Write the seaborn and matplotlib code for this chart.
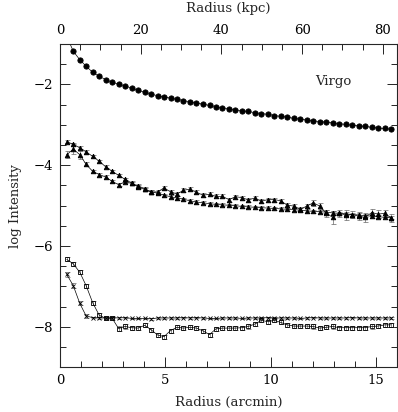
import matplotlib
matplotlib.use("Agg")
import matplotlib.pyplot as plt
import seaborn as sns
from matplotlib.ticker import MultipleLocator

sns.set_style("ticks")
plt.rcParams['font.family'] = ['DejaVu Serif']
plt.rcParams['mathtext.default'] = 'regular'

# radius in arcmin (shared sampling of all profiles)
radius = [0.32, 0.63, 0.94, 1.24, 1.55, 1.86, 2.17, 2.48, 2.78, 3.09,
          3.40, 3.71, 4.02, 4.32, 4.63, 4.94, 5.25, 5.56, 5.86, 6.17,
          6.48, 6.79, 7.10, 7.40, 7.71, 8.02, 8.33, 8.64, 8.94, 9.25,
          9.56, 9.87, 10.18, 10.48, 10.79, 11.10, 11.41, 11.72, 12.02, 12.33,
          12.64, 12.95, 13.26, 13.56, 13.87, 14.18, 14.49, 14.80, 15.10, 15.41,
          15.72]

# filled circles (first point lies above the plot)
circles = [-0.81, -1.18, -1.39, -1.55, -1.70, -1.80, -1.88, -1.95, -1.99, -2.04,
           -2.09, -2.15, -2.19, -2.24, -2.28, -2.31, -2.34, -2.37, -2.40, -2.43,
           -2.46, -2.49, -2.52, -2.55, -2.58, -2.60, -2.63, -2.65, -2.67, -2.70,
           -2.72, -2.74, -2.77, -2.79, -2.81, -2.84, -2.86, -2.88, -2.90, -2.92,
           -2.93, -2.95, -2.97, -2.99, -3.01, -3.02, -3.04, -3.06, -3.08, -3.09,
           -3.11]

# triangles, smooth profile
tri_a = [-3.42, -3.48, -3.57, -3.67, -3.78, -3.90, -4.04, -4.15, -4.25, -4.35,
         -4.44, -4.54, -4.60, -4.66, -4.69, -4.74, -4.78, -4.81, -4.84, -4.88,
         -4.91, -4.93, -4.95, -4.97, -4.98, -4.99, -5.00, -5.02, -5.03, -5.04,
         -5.05, -5.06, -5.07, -5.08, -5.09, -5.10, -5.11, -5.13, -5.14, -5.15,
         -5.16, -5.18, -5.19, -5.20, -5.22, -5.23, -5.25, -5.26, -5.27, -5.29,
         -5.30]
tri_a_err = [0.04] * 51

# triangles, noisy profile
tri_b = [-3.74, -3.60, -3.74, -3.98, -4.15, -4.23, -4.29, -4.40, -4.48, -4.41,
         -4.45, -4.51, -4.58, -4.66, -4.66, -4.56, -4.66, -4.71, -4.62, -4.59,
         -4.67, -4.74, -4.72, -4.77, -4.77, -4.85, -4.78, -4.80, -4.86, -4.81,
         -4.89, -4.85, -4.85, -4.88, -4.99, -5.01, -5.09, -5.01, -4.93, -5.01,
         -5.19, -5.29, -5.19, -5.23, -5.22, -5.26, -5.29, -5.17, -5.21, -5.19,
         -5.30]
tri_b_err = [0.09, 0.12, 0.10, 0.05, 0.04, 0.04, 0.04, 0.04, 0.04, 0.04,
             0.04, 0.04, 0.05, 0.05, 0.05, 0.05, 0.05, 0.05, 0.05, 0.05,
             0.05, 0.05, 0.05, 0.05, 0.05, 0.05, 0.05, 0.05, 0.05, 0.05,
             0.05, 0.05, 0.05, 0.05, 0.06, 0.06, 0.06, 0.06, 0.07, 0.07,
             0.09, 0.16, 0.09, 0.12, 0.08, 0.10, 0.12, 0.08, 0.09, 0.09,
             0.10]

# open squares
squares = [-6.33, -6.44, -6.65, -6.98, -7.40, -7.71, -7.79, -7.79, -8.04, -7.99,
           -8.02, -8.03, -7.96, -8.07, -8.20, -8.24, -8.09, -8.01, -8.03, -8.01,
           -8.03, -8.10, -8.19, -8.05, -8.03, -8.03, -8.03, -8.02, -7.99, -7.93,
           -7.84, -7.87, -7.84, -7.89, -7.95, -7.98, -7.98, -7.98, -7.99, -8.03,
           -8.01, -7.99, -8.02, -8.02, -8.02, -8.02, -8.02, -7.99, -7.98, -7.95,
           -7.95]
squares_err = [0.05] * 51

# crosses
crosses = [-6.70, -6.98, -7.42, -7.73, -7.77, -7.78, -7.78, -7.77, -7.78, -7.77,
           -7.79, -7.79, -7.79, -7.80, -7.78, -7.78, -7.78, -7.78, -7.77, -7.78,
           -7.77, -7.78, -7.79, -7.79, -7.78, -7.78, -7.78, -7.79, -7.78, -7.78,
           -7.78, -7.77, -7.78, -7.78, -7.78, -7.78, -7.79, -7.78, -7.77, -7.78,
           -7.78, -7.78, -7.78, -7.78, -7.77, -7.78, -7.78, -7.78, -7.78, -7.78,
           -7.78]
crosses_err = [0.06, 0.06, 0.05, 0.04] + [0.02] * 47

kpc_per_arcmin = 5.22

fig = plt.figure(figsize=(3.98, 4.12), dpi=100)
ax = fig.add_axes([0.1508, 0.1085, 0.8467, 0.7847])

series = [
    (circles, None, 'o', 'k', 3.8),
    (tri_a, tri_a_err, '^', 'k', 3.3),
    (tri_b, tri_b_err, '^', 'k', 3.3),
    (squares, squares_err, 's', 'none', 3.4),
    (crosses, crosses_err, 'x', 'k', 2.8),
]
for vals, err, mk, face, ms in series:
    if err is not None:
        ax.errorbar(radius, vals, yerr=err, fmt='none', ecolor='0.4',
                    elinewidth=0.5, capsize=1.8, capthick=0.5, zorder=2)
    sns.lineplot(x=radius, y=vals, ax=ax, color='k', lw=0.5, sort=False,
                 estimator=None, marker=mk, markersize=ms,
                 markerfacecolor=face, markeredgecolor='k',
                 markeredgewidth=0.6, zorder=3)

ax.set_xlim(0, 16)
ax.set_ylim(-9, -1)
ax.xaxis.set_major_locator(MultipleLocator(5))
ax.xaxis.set_minor_locator(MultipleLocator(1))
ax.yaxis.set_major_locator(MultipleLocator(2))
ax.yaxis.set_minor_locator(MultipleLocator(0.5))
ax.tick_params(which='both', direction='in', right=True, colors='k',
               labelsize=9.5, width=0.6)
ax.tick_params(which='major', length=7, pad=5)
ax.tick_params(which='minor', length=4)
ax.set_xlabel('Radius (arcmin)', fontsize=9.5, labelpad=6)
ax.set_ylabel('log Intensity', fontsize=9.5, labelpad=8)
for s in ax.spines.values():
    s.set_linewidth(0.7)
    s.set_color('k')

top = ax.twiny()
top.set_xlim(0, 16 * kpc_per_arcmin)
top.xaxis.set_major_locator(MultipleLocator(20))
top.xaxis.set_minor_locator(MultipleLocator(5))
top.tick_params(which='both', direction='in', labelsize=9.5, width=0.6, colors='k')
top.tick_params(which='major', length=7, pad=5)
top.tick_params(which='minor', length=4)
top.set_xlabel('Radius (kpc)', fontsize=9.5, labelpad=9)

ax.text(12.1, -1.93, 'Virgo', fontsize=9.5, va='center', ha='left')

fig.savefig('out.png', dpi=100)
